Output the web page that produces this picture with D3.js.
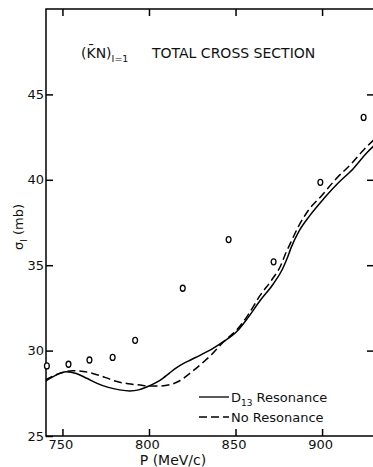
<!DOCTYPE html>
<html>
<head>
<meta charset="utf-8">
<script src="https://cdn.jsdelivr.net/npm/d3@7/dist/d3.min.js"></script>
<style>
  body { margin: 0; background: #fff; }
  svg { display: block; }
  .axis path, .axis line { stroke: #000; stroke-width: 1.5; }
  .axis text { font-family: "DejaVu Sans", sans-serif; font-size: 13px; fill: #111; }
  .lbl { font-family: "DejaVu Sans", sans-serif; fill: #111; }
</style>
</head>
<body>
<svg id="chart" width="373" height="467"></svg>
<script>
// measured points (P in MeV/c, sigma in mb)
const dataP = [741, 753.5, 765.6, 779, 792, 819.5, 846, 872, 899, 924];
const dataSigma = [29.1, 29.2, 29.45, 29.6, 30.6, 33.65, 36.5, 35.2, 39.85, 43.65];

// D13 resonance fit (solid)
const resP = [740, 746, 752, 758, 764, 770, 776, 783, 789, 794, 799, 804, 808, 812, 816, 820, 824, 830, 837, 843, 851, 857, 864, 872, 877, 880, 882, 887, 893, 901, 909, 918, 926, 930];
const resSigma = [28.2, 28.55, 28.76, 28.66, 28.38, 28.08, 27.86, 27.7, 27.64, 27.7, 27.88, 28.12, 28.38, 28.7, 29.0, 29.25, 29.45, 29.75, 30.13, 30.52, 31.15, 31.9, 32.9, 33.93, 34.75, 35.45, 36.0, 37.05, 37.92, 38.9, 39.78, 40.65, 41.6, 42.0];

// no resonance fit (dashed)
const noResP = [740, 748, 756, 762, 768, 775, 781, 788, 795, 800, 806, 812, 818, 824, 830, 836, 843, 851, 857, 864, 871, 876, 879, 882, 886, 892, 900, 908, 917, 924, 930];
const noResSigma = [28.28, 28.65, 28.82, 28.78, 28.65, 28.42, 28.2, 28.06, 27.98, 27.93, 27.92, 28.0, 28.25, 28.7, 29.2, 29.75, 30.5, 31.25, 32.05, 33.2, 34.15, 34.95, 35.7, 36.35, 37.2, 38.2, 39.1, 40.05, 40.95, 41.75, 42.35];

const xTicks = [750, 800, 850, 900];
const yTicks = [25, 30, 35, 40, 45];

const svg = d3.select("#chart");
const mLeft = 46, mRight = 374, mTop = 9, mBottom = 436;

const x = d3.scaleLinear().domain([740.5, 930]).range([mLeft, mRight]);
const y = d3.scaleLinear().domain([25, 50]).range([mBottom, mTop]);

// frame
svg.append("rect")
  .attr("x", mLeft).attr("y", mTop)
  .attr("width", mRight - mLeft).attr("height", mBottom - mTop)
  .attr("fill", "none").attr("stroke", "#000").attr("stroke-width", 1.5);

svg.append("g").attr("class", "axis")
  .attr("transform", `translate(0,${mBottom})`)
  .call(d3.axisBottom(x).tickValues(xTicks).tickSize(-7).tickPadding(4).tickSizeOuter(0))
  .selectAll("text").attr("dx", -2);

svg.append("g").attr("class", "axis")
  .attr("transform", `translate(0,${mTop})`)
  .call(d3.axisTop(x).tickValues(xTicks).tickSize(-7).tickFormat("").tickSizeOuter(0));

svg.append("g").attr("class", "axis")
  .attr("transform", `translate(${mLeft},0)`)
  .call(d3.axisLeft(y).tickValues(yTicks).tickSize(-7).tickPadding(2).tickSizeOuter(0));

svg.append("g").attr("class", "axis")
  .attr("transform", `translate(${mRight},0)`)
  .call(d3.axisRight(y).tickValues(yTicks.slice(1)).tickSize(-7).tickFormat("").tickSizeOuter(0));

svg.selectAll(".axis .domain").remove();

// curves
const line = d3.line().curve(d3.curveMonotoneX);
svg.append("clipPath").attr("id", "clip")
  .append("rect").attr("x", mLeft).attr("y", mTop).attr("width", mRight - mLeft).attr("height", mBottom - mTop);

svg.append("path")
  .attr("clip-path", "url(#clip)")
  .attr("d", line(resP.map((p, i) => [x(p), y(resSigma[i])])))
  .attr("fill", "none").attr("stroke", "#000").attr("stroke-width", 1.5);

svg.append("path")
  .attr("clip-path", "url(#clip)")
  .attr("d", line(noResP.map((p, i) => [x(p), y(noResSigma[i])])))
  .attr("fill", "none").attr("stroke", "#000").attr("stroke-width", 1.5)
  .attr("stroke-dasharray", "8,4");

// data points
svg.selectAll(".pt").data(dataP).enter().append("ellipse")
  .attr("class", "pt")
  .attr("cx", d => x(d))
  .attr("cy", (d, i) => y(dataSigma[i]))
  .attr("rx", 2.4).attr("ry", 3)
  .attr("fill", "#fff").attr("stroke", "#000").attr("stroke-width", 1.3);

// title
const t1 = svg.append("text").attr("class", "lbl")
  .attr("x", 81).attr("y", 58).attr("font-size", 14);
t1.append("tspan").text("(K\u0304N)");
t1.append("tspan").attr("dy", 4).attr("font-size", 9.5).text("I=1");

svg.append("text").attr("class", "lbl")
  .attr("x", 152).attr("y", 58).attr("font-size", 14)
  .text("TOTAL CROSS SECTION");

// axis labels
svg.append("text").attr("class", "lbl")
  .attr("x", 173).attr("y", 465).attr("font-size", 14)
  .attr("text-anchor", "middle").text("P (MeV/c)");

const yl = svg.append("text").attr("class", "lbl")
  .attr("transform", "translate(23,227) rotate(-90)")
  .attr("font-size", 13).attr("text-anchor", "middle");
yl.append("tspan").text("σ");
yl.append("tspan").attr("dy", 4).attr("font-size", 9).text("I");
yl.append("tspan").attr("dy", -4).text(" (mb)");

// legend
const legend = [
  { name: "D", sub: "13", rest: " Resonance", dash: null, yy: 397 },
  { name: "No Resonance", sub: "", rest: "", dash: "8,4", yy: 417 }
];
legend.forEach(l => {
  svg.append("line")
    .attr("x1", 199).attr("x2", 229).attr("y1", l.yy).attr("y2", l.yy)
    .attr("stroke", "#000").attr("stroke-width", 1.3)
    .attr("stroke-dasharray", l.dash);
  const tx = svg.append("text").attr("class", "lbl")
    .attr("x", 231).attr("y", l.yy + 5).attr("font-size", 13);
  tx.append("tspan").text(l.name);
  if (l.sub) {
    tx.append("tspan").attr("dy", 4).attr("font-size", 9).text(l.sub);
    tx.append("tspan").attr("dy", -4).text(l.rest);
  }
});
</script>
</body>
</html>
